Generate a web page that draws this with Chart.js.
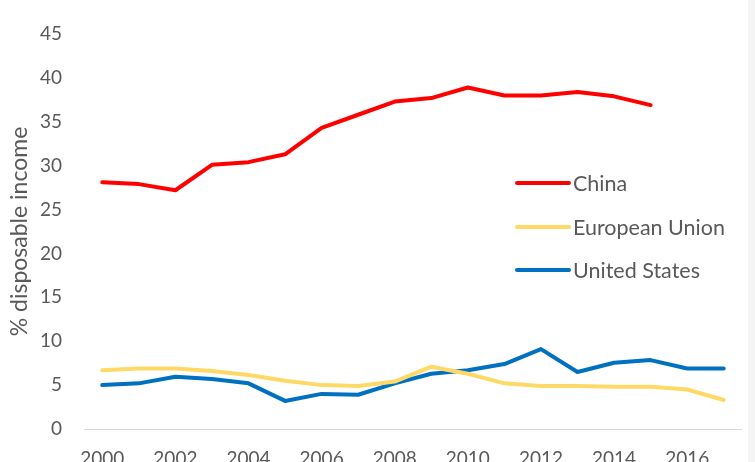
<!DOCTYPE html>
<html>
<head>
<meta charset="utf-8">
<script src="https://cdn.jsdelivr.net/npm/chart.js@4/dist/chart.umd.min.js"></script>
<style>
  html, body { margin: 0; padding: 0; background: #fff; overflow: hidden; }
  #wrap { position: relative; width: 755px; height: 480px; }
  #edge { position: absolute; left: 748px; top: 0; width: 7px; height: 480px; background: #F4F4F4; }
</style>
</head>
<body>
<div id="wrap"><canvas id="chart" width="755" height="480"></canvas><div id="edge"></div></div>
<script>
const years = ['2000','2001','2002','2003','2004','2005','2006','2007','2008',
  '2009','2010','2011','2012','2013','2014','2015','2016','2017'];
const china = [28.1, 27.9, 27.2, 30.1, 30.4, 31.3, 34.3, 35.8, 37.3, 37.7, 38.9, 38.0, 38.0, 38.4, 37.9, 36.9, null, null];
const eu = [6.7, 6.9, 6.9, 6.6, 6.15, 5.5, 5.0, 4.9, 5.4, 7.1, 6.3, 5.2, 4.9, 4.9, 4.8, 4.8, 4.5, 3.3];
const us = [5.0, 5.2, 5.95, 5.7, 5.2, 3.2, 4.0, 3.9, 5.2, 6.3, 6.7, 7.4, 9.1, 6.5, 7.55, 7.85, 6.9, 6.9];
const yTicks = [0, 5, 10, 15, 20, 25, 30, 35, 40, 45];

const textColor = '#595959';
const fontFamily = 'Lato, "Open Sans", sans-serif';

// legend drawn inside the plot, to the right
const insideLegend = {
  id: 'insideLegend',
  afterDatasetsDraw(chart) {
    const ctx = chart.ctx;
    const x0 = 517, x1 = 569, tx = 573;
    const rows = [183, 227, 270];
    ctx.save();
    ctx.font = '21.5px ' + fontFamily;
    ctx.textBaseline = 'middle';
    ctx.textAlign = 'left';
    chart.data.datasets.forEach((ds, i) => {
      ctx.strokeStyle = ds.borderColor;
      ctx.lineWidth = 4;
      ctx.lineCap = 'round';
      ctx.beginPath();
      ctx.moveTo(x0, rows[i]);
      ctx.lineTo(x1, rows[i]);
      ctx.stroke();
      ctx.fillStyle = textColor;
      ctx.fillText(ds.label, tx, rows[i] + 1);
    });
    ctx.restore();
  }
};

new Chart(document.getElementById('chart'), {
  type: 'line',
  data: {
    labels: years,
    datasets: [
      { label: 'China', data: china, borderColor: '#FF0000' },
      { label: 'European Union', data: eu, borderColor: '#FFD966' },
      { label: 'United States', data: us, borderColor: '#0070C0' },
    ],
  },
  options: {
    responsive: false,
    animation: false,
    devicePixelRatio: 1,
    layout: { padding: { top: 34, right: 13, left: 0, bottom: 0 } },
    elements: {
      line: { borderWidth: 4, tension: 0, borderCapStyle: 'round', borderJoinStyle: 'round' },
      point: { radius: 0 },
    },
    plugins: {
      legend: { display: false },
      tooltip: { enabled: false },
    },
    scales: {
      x: {
        offset: true,
        grid: { display: false, drawTicks: false },
        border: { display: false },
        ticks: {
          color: textColor,
          font: { family: fontFamily, size: 19 },
          padding: 18,
          maxRotation: 0,
          autoSkip: false,
          callback: (v, i) => (i % 2 === 0 ? years[i] : ''),
        },
        afterFit: s => { s.height = 51; },
      },
      y: {
        min: 0,
        max: 45,
        afterBuildTicks: s => { s.ticks = yTicks.map(v => ({ value: v })); },
        grid: {
          drawTicks: false,
          color: c => (c.tick.value === 0 ? '#D9D9D9' : 'rgba(0,0,0,0)'),
          lineWidth: 1,
        },
        border: { display: false },
        ticks: {
          color: textColor,
          font: { family: fontFamily, size: 19 },
          padding: 22,
        },
        title: {
          display: true,
          text: '% disposable income',
          color: textColor,
          font: { family: fontFamily, size: 23 },
          padding: { top: 6, bottom: 0 },
        },
        afterFit: s => { s.width = 84; },
      },
    },
  },
  plugins: [insideLegend],
});
</script>
</body>
</html>
